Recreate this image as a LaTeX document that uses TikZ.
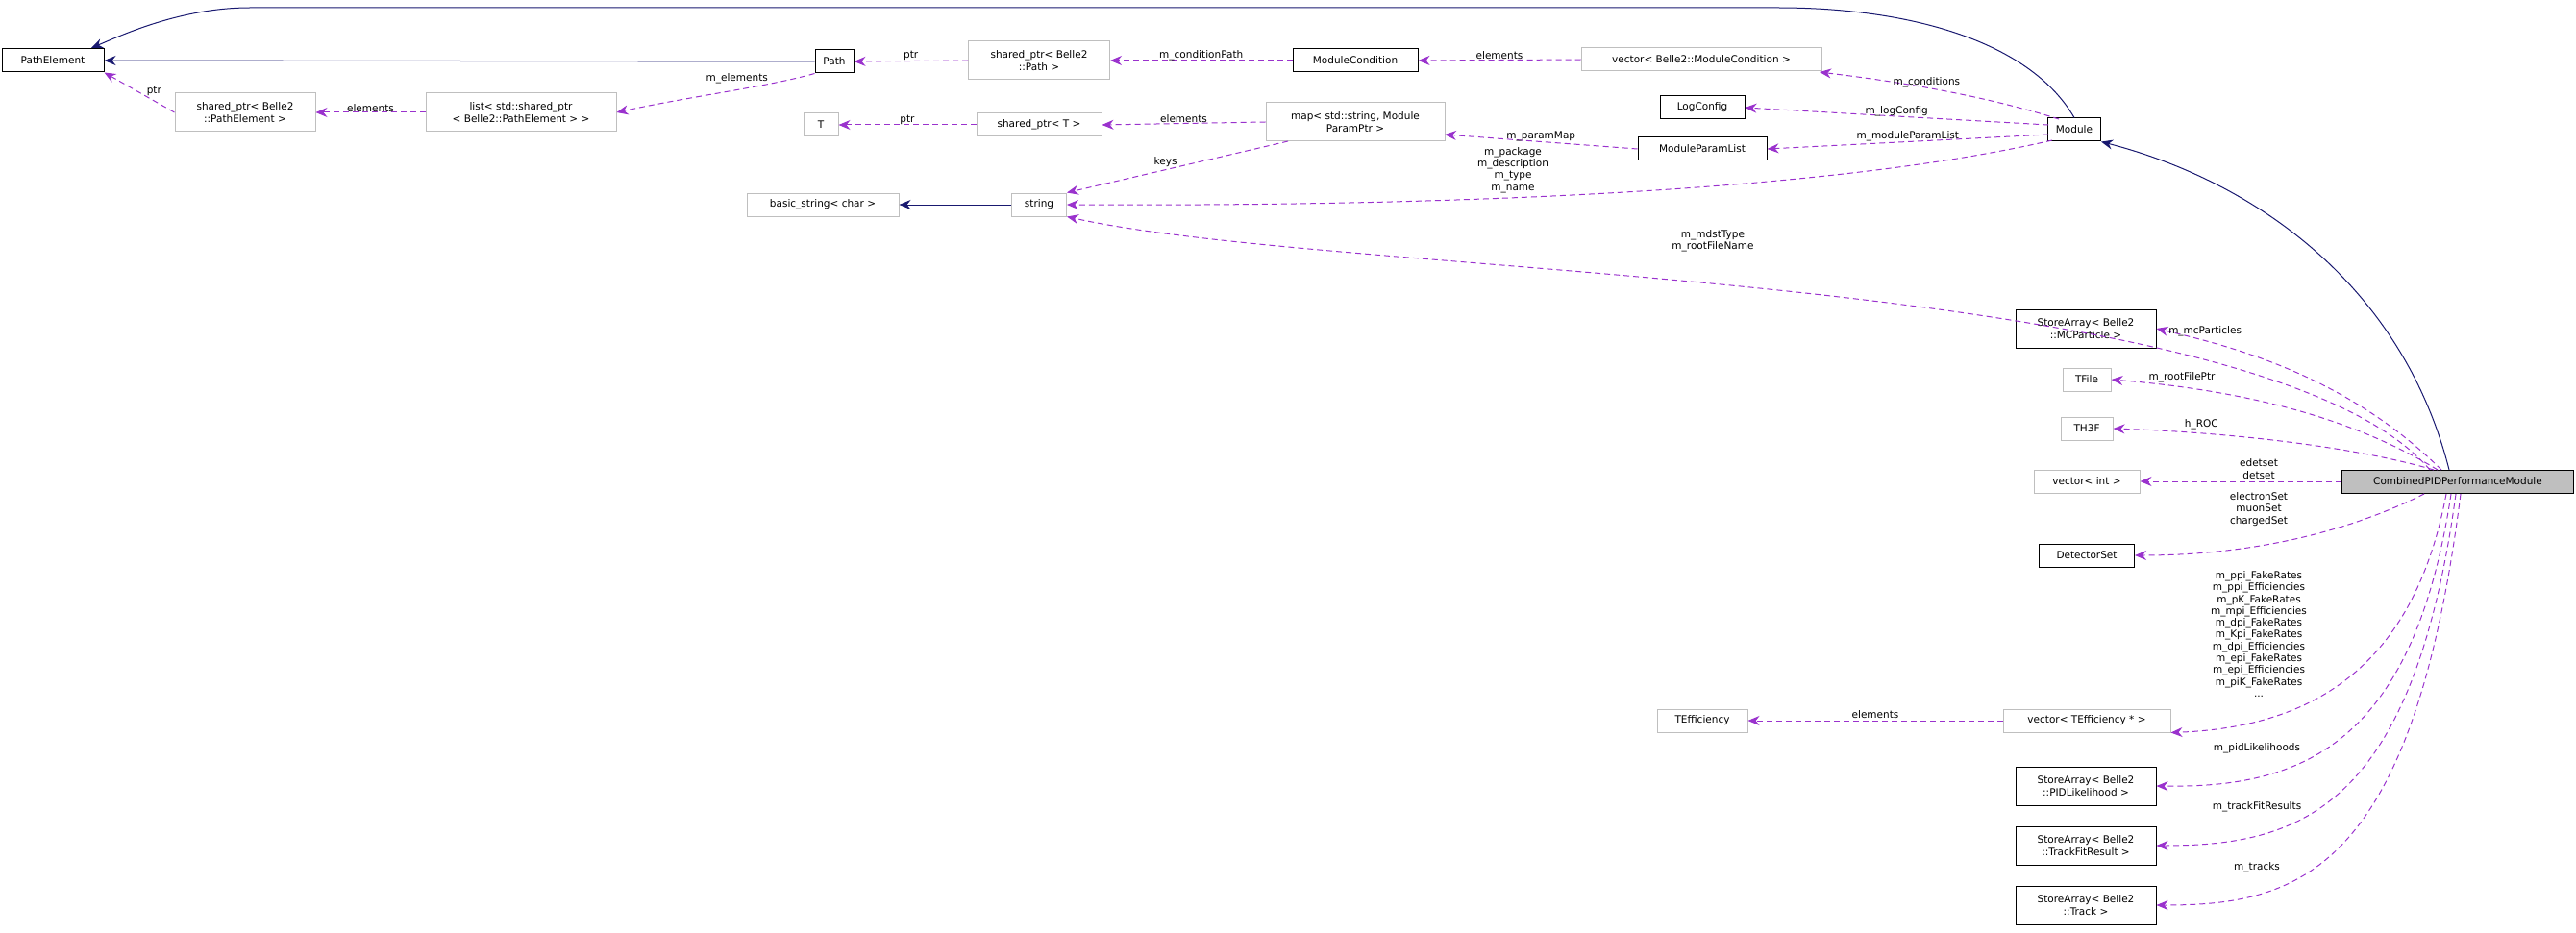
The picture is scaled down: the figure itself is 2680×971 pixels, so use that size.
\documentclass[tikz,border=0pt]{standalone}
\usepackage{fontspec}
\setmainfont{DejaVu Sans}
\usetikzlibrary{arrows.meta}
\definecolor{navy}{HTML}{191970}
\definecolor{dep}{HTML}{9A32CD}
\definecolor{gbox}{HTML}{BFBFBF}
\begin{document}
\begin{tikzpicture}[x=1pt,y=-1pt,
  every node/.style={font=\fontsize{10.5}{12.3}\selectfont, align=center, inner sep=2pt},
  cls/.style={draw=black, line width=1pt, fill=white, minimum height=24pt, inner xsep=5pt},
  ext/.style={draw=gbox, line width=1pt, fill=white, minimum height=24pt, inner xsep=5pt},
  inh/.style={draw=navy, line width=1pt, -{Stealth[length=12pt,width=10pt]}},
  use/.style={draw=dep, line width=1pt, dash pattern=on 6pt off 4pt, -{Stealth[length=12pt,width=10pt]}},
  lbl/.style={inner sep=0pt}]
\useasboundingbox (0,0) rectangle (2680,971);
% nodes
\node[cls, minimum width=106pt] (PE) at (55,63) {PathElement};
\node[cls, minimum width=40pt] (Path) at (868,64) {Path};
\node[ext, minimum width=146pt, minimum height=40pt] (spPE) at (255,117) {shared\_ptr< Belle2\\::PathElement >};
\node[ext, minimum width=198pt, minimum height=40pt] (list) at (542,117) {list< std::shared\_ptr\\< Belle2::PathElement > >};
\node[ext, minimum width=147pt, minimum height=40pt] (spPath) at (1081,63) {shared\_ptr< Belle2\\::Path >};
\node[cls, minimum width=130pt] (MC) at (1410,63) {ModuleCondition};
\node[ext, minimum width=250pt] (vMC) at (1770,62) {vector< Belle2::ModuleCondition >};
\node[ext, minimum width=36pt] (T) at (854,130) {T};
\node[ext, minimum width=130pt] (spT) at (1081,130) {shared\_ptr< T >};
\node[ext, minimum width=186pt, minimum height=40pt] (map) at (1410,127) {map< std::string, Module\\ParamPtr >};
\node[cls, minimum width=88pt] (LC) at (1771,112) {LogConfig};
\node[cls, minimum width=134pt] (MPL) at (1771,155) {ModuleParamList};
\node[cls, minimum width=55pt] (Mod) at (2158,135) {Module};
\node[ext, minimum width=158pt] (bs) at (856,213) {basic\_string< char >};
\node[ext, minimum width=57pt] (str) at (1081,213) {string};
\node[cls, minimum width=146pt, minimum height=40pt] (SAmc) at (2170,342) {StoreArray< Belle2\\::MCParticle >};
\node[ext, minimum width=50pt] (TF) at (2171,395) {TFile};
\node[ext, minimum width=54pt] (TH) at (2171,446) {TH3F};
\node[ext, minimum width=110pt] (vint) at (2171,501) {vector< int >};
\node[cls, minimum width=241pt, fill=gbox] (CP) at (2557,501) {CombinedPIDPerformanceModule};
\node[cls, minimum width=99pt] (DS) at (2171,578) {DetectorSet};
\node[ext, minimum width=94pt] (TE) at (1771,750) {TEfficiency};
\node[ext, minimum width=174pt] (vTE) at (2171,750) {vector< TEfficiency * >};
\node[cls, minimum width=146pt, minimum height=40pt] (SApid) at (2170,818) {StoreArray< Belle2\\::PIDLikelihood >};
\node[cls, minimum width=146pt, minimum height=40pt] (SAtfr) at (2170,880) {StoreArray< Belle2\\::TrackFitResult >};
\node[cls, minimum width=146pt, minimum height=40pt] (SAtr) at (2170,942) {StoreArray< Belle2\\::Track >};
% inheritance
\draw[inh] (Path.west) -- (PE.east);
\draw[inh] (Mod.north) .. controls (2110,40) and (1980,8) .. (1850,8) -- (260,8) .. controls (190,8) and (130,35) .. (95,50);
\draw[inh] (2548,489) .. controls (2500,300) and (2350,190) .. (Mod.south east);
\draw[inh] (str.west) -- (bs.east);
% usage
\draw[use] (spPE.west) -- (PE.south east) node[lbl, pos=0.4, above right] {ptr};
\draw[use] (list.west) -- (spPE.east) node[lbl, midway, above] {elements};
\draw[use] (Path.south west) .. controls (800,90) and (720,100) .. (list.east) node[lbl, pos=0.45, above=6pt] {m\_elements};
\draw[use] (spPath.west) -- (Path.east) node[lbl, midway, above] {ptr};
\draw[use] (MC.west) -- (spPath.east) node[lbl, midway, above] {m\_conditionPath};
\draw[use] (vMC.west) -- (MC.east) node[lbl, midway, above] {elements};
\draw[use] (2142,124) .. controls (2050,95) and (1950,82) .. (1893,75) node[lbl, midway, above] {m\_conditions};
\draw[use] (2131,130) -- (LC.east) node[lbl, midway, above] {m\_logConfig};
\draw[use] (2131,140) -- (MPL.east) node[lbl, midway, above] {m\_moduleParamList};
\draw[use] (MPL.west) -- (1503,140) node[lbl, midway, above] {m\_paramMap};
\draw[use] (map.west) -- (spT.east) node[lbl, midway, above] {elements};
\draw[use] (spT.west) -- (T.east) node[lbl, midway, above] {ptr};
\draw[use] (1340,147) -- (str.north east) node[lbl, pos=0.5, above left] {keys};
\draw[use] (2135,146) .. controls (1900,200) and (1500,215) .. (str.east);
\node[lbl] (lMod) at (1574,177) {m\_package\\m\_description\\m\_type\\m\_name};
\draw[use] (2528,489) .. controls (2350,280) and (1400,290) .. (str.south east);
\node[lbl] (lCPs) at (1782,251) {m\_mdstType\\m\_rootFileName};
\draw[use] (2540,489) .. controls (2440,390) and (2320,360) .. (SAmc.east) node[lbl, pos=0.8, above=4pt] {m\_mcParticles};
\draw[use] (2536,489) .. controls (2440,430) and (2320,405) .. (TF.east) node[lbl, pos=0.8, above=4pt] {m\_rootFilePtr};
\draw[use] (2532,489) .. controls (2450,465) and (2320,450) .. (TH.east) node[lbl, pos=0.75, above=4pt] {h\_ROC};
\draw[use] (CP.west) -- (vint.east);
\node[lbl] (lvi) at (2350,488) {edetset\\detset};
\draw[use] (2522,514) .. controls (2420,565) and (2310,578) .. (DS.east);
\node[lbl] (lds) at (2350,530) {electronSet\\muonSet\\chargedSet};
\draw[use] (2545,514) .. controls (2510,700) and (2400,757) .. (vTE.south east);
\node[lbl] (lte) at (2350,660) {m\_ppi\_FakeRates\\m\_ppi\_Efficiencies\\m\_pK\_FakeRates\\m\_mpi\_Efficiencies\\m\_dpi\_FakeRates\\m\_Kpi\_FakeRates\\m\_dpi\_Efficiencies\\m\_epi\_FakeRates\\m\_epi\_Efficiencies\\m\_piK\_FakeRates\\...};
\draw[use] (vTE.west) -- (TE.east) node[lbl, midway, above=2pt] {elements};
\draw[use] (2550,514) .. controls (2510,780) and (2390,820) .. (SApid.east);
\node[lbl] (lpid) at (2348,779) {m\_pidLikelihoods};
\draw[use] (2555,514) .. controls (2510,845) and (2390,880) .. (SAtfr.east);
\node[lbl] (ltfr) at (2348,840) {m\_trackFitResults};
\draw[use] (2560,514) .. controls (2510,910) and (2390,942) .. (SAtr.east);
\node[lbl] (ltr) at (2348,903) {m\_tracks};
\end{tikzpicture}
\end{document}
